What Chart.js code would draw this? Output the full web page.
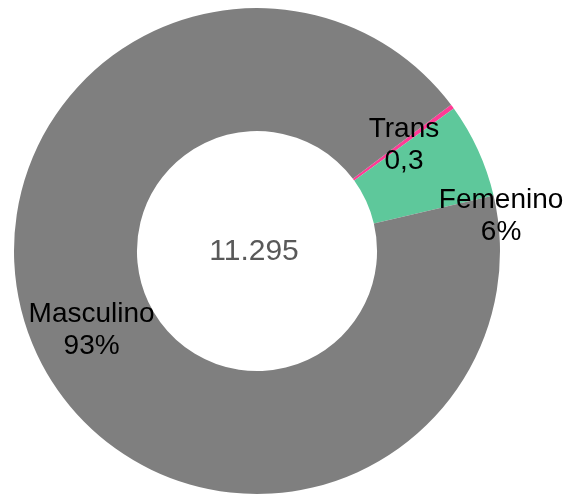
<!DOCTYPE html>
<html>
<head>
<meta charset="utf-8">
<script src="https://cdn.jsdelivr.net/npm/chart.js@4.4.1/dist/chart.umd.min.js"></script>
<style>
    html, body { margin: 0; padding: 0; background: #ffffff; }
    #wrap { width: 570px; height: 495px; position: relative; }
</style>
</head>
<body>
<div id="wrap"><canvas id="genero"></canvas></div>
<script>
/* =========================
   DATA
========================= */

const categories = ["Trans", "Femenino", "Masculino"];
const values = [34, 712, 10549];
const valueLabels = ["0,3", "6%", "93%"];
const totalLabel = "11.295";

const colors = ["#ff3b95", "#5ec89b", "#7f7f7f"];

// manual nudge of each label from the middle of its slice (px)
const labelNudge = [[1, 2], [79, 41], [-1, 2]];

/* =========================
   LABELS PLUGIN
========================= */

const sliceLabels = {
    id: "sliceLabels",
    afterDatasetsDraw(chart) {
        const ctx = chart.ctx;
        const meta = chart.getDatasetMeta(0);

        ctx.save();
        ctx.textAlign = "center";
        ctx.textBaseline = "middle";
        ctx.font = "28px 'Liberation Sans', Arial, sans-serif";
        ctx.fillStyle = "#000000";

        meta.data.forEach((arc, i) => {
            const p = arc.tooltipPosition();
            const x = p.x + labelNudge[i][0];
            const y = p.y + labelNudge[i][1];
            ctx.fillText(categories[i], x, y - 16);
            ctx.fillText(valueLabels[i], x, y + 16);
        });

        // total in the hole
        const c = meta.data[0];
        ctx.font = "30px 'Liberation Sans', Arial, sans-serif";
        ctx.fillStyle = "#595959";
        ctx.fillText(totalLabel, c.x - 3, c.y + 1);
        ctx.restore();
    }
};

/* =========================
   CHART
========================= */

new Chart(document.getElementById("genero"), {
    type: "doughnut",
    data: {
        labels: categories,
        datasets: [{
            data: values,
            backgroundColor: colors,
            borderWidth: 0
        }]
    },
    options: {
        responsive: true,
        maintainAspectRatio: false,
        animation: false,
        rotation: 53,
        cutout: "49.4%",
        layout: {
            padding: { left: 14, right: 70, top: 8, bottom: 1 }
        },
        plugins: {
            legend: { display: false },
            tooltip: { enabled: false }
        }
    },
    plugins: [sliceLabels]
});
</script>
</body>
</html>
